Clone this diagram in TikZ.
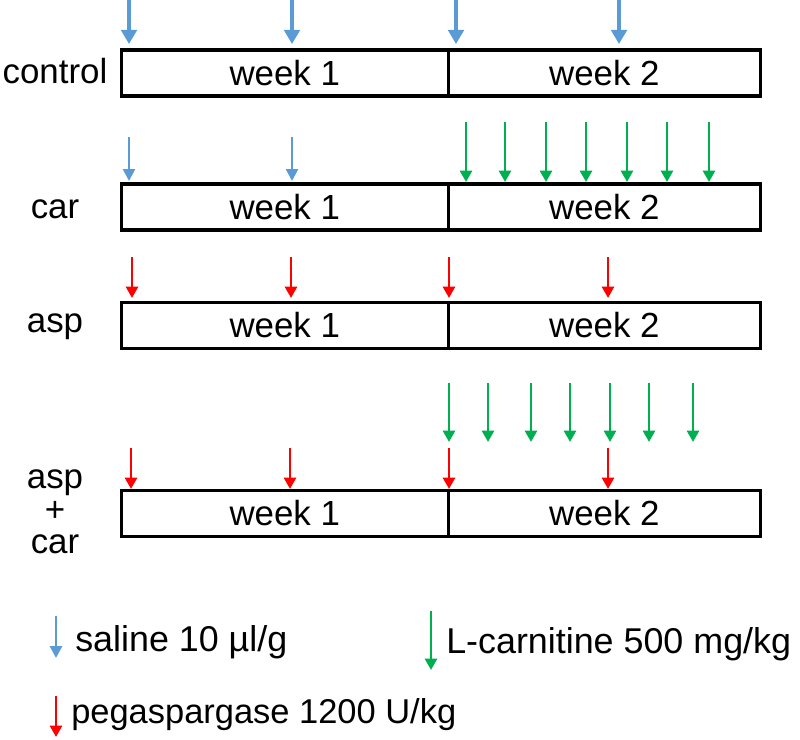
\documentclass[tikz,border=0pt]{standalone}
\usepackage{fontspec}
\setmainfont{Liberation Sans}
\usepackage{xcolor}
\usetikzlibrary{arrows.meta, positioning}

\definecolor{salblue}{HTML}{5B9BD5}
\definecolor{cargreen}{HTML}{00B050}
\definecolor{aspred}{HTML}{FF0000}

\tikzset{
  weekbox/.style={draw, line width=2.2pt, minimum height=1.15cm, inner sep=0pt, outer sep=0pt, font=\fontsize{24.8}{28}\selectfont},
  grplabel/.style={inner sep=0pt, anchor=base, font=\fontsize{24.8}{23}\selectfont},
  legtext/.style={inner sep=0pt, anchor=base west, font=\fontsize{24.5}{28}\selectfont},
  salthick/.style={salblue, line width=2.8pt, -{Triangle[length=10pt, width=11pt]}},
  salthin/.style={salblue, line width=1.8pt, -{Triangle[length=8.5pt, width=8.5pt]}},
  carthin/.style={cargreen, line width=2.1pt, -{Triangle[length=8.1pt, width=8.5pt]}},
  aspthin/.style={aspred, line width=2.1pt, -{Triangle[length=8.1pt, width=8.5pt]}},
}

\begin{document}
\begin{tikzpicture}[x=0.025cm, y=-0.025cm]
\useasboundingbox (0,0) rectangle (800,739);

% Nodes
\node[weekbox, minimum width=8.1625cm] (c1) at (284.75,73) {week 1};
\node[weekbox, minimum width=7.8125cm, right=0pt of c1] (c2) {week 2};
\node[weekbox, minimum width=8.1625cm] (r1) at (284.75,207) {week 1};
\node[weekbox, minimum width=7.8125cm, right=0pt of r1] (r2) {week 2};
\node[weekbox, minimum width=8.1625cm] (a1) at (284.75,325.5) {week 1};
\node[weekbox, minimum width=7.8125cm, right=0pt of a1] (a2) {week 2};
\node[weekbox, minimum width=8.1625cm] (ac1) at (284.75,513.5) {week 1};
\node[weekbox, minimum width=7.8125cm, right=0pt of ac1] (ac2) {week 2};

% Group labels
\node[grplabel] (lc) at (55,83) {control};
\node[grplabel] (lr) at (55,218) {car};
\node[grplabel] (la) at (55,332) {asp};
\node[grplabel, anchor=center, align=center] (lac) at (55,512) {asp\\+\\car};

% Injections
\foreach \x in {129,292,456,619} \draw[salthick] (\x,0) -- (\x,44);
\foreach \x in {129,292} \draw[salthin] (\x,137) -- (\x,181);
\foreach \x in {466,505,546,586,627,667,709} \draw[carthin] (\x,122) -- (\x,182);
\foreach \x in {132,291,449,608} \draw[aspthin] (\x,257) -- (\x,298);
\foreach \x in {449,488,531,570,610,649,693} \draw[carthin] (\x,383) -- (\x,442);
\foreach \x in {131,290,449,608} \draw[aspthin] (\x,448) -- (\x,489);

% Legend
\draw[salthin] (56,616) -- (56,658);
\node[legtext, font=\fontsize{25.5}{28}\selectfont] (legsal) at (75,651) {saline 10 µl/g};
\draw[carthin] (431,611) -- (431,670);
\node[legtext, font=\fontsize{25.5}{28}\selectfont] (legcar) at (446,653) {L-carnitine 500 mg/kg};
\draw[aspthin] (56,696) -- (56,737);
\node[legtext] (legasp) at (71,723) {pegaspargase 1200 U/kg};

\end{tikzpicture}
\end{document}
